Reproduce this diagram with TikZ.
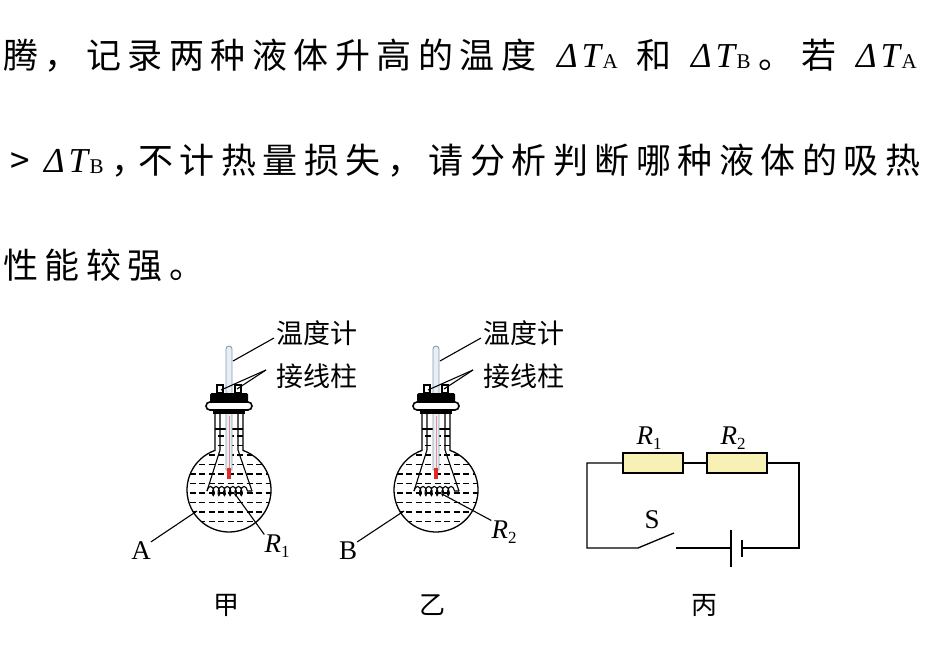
\RequirePackage{fix-cm}
\documentclass[tikz,border=0pt]{standalone}
\usepackage{amsmath}
\usepackage{fontspec}
\newfontfamily\cjk{Noto Sans CJK SC}
\newfontfamily\tms{Liberation Serif}
\usetikzlibrary{decorations.pathmorphing}
\definecolor{resfill}{HTML}{F8F1B6}
\definecolor{tubefill}{HTML}{E8EFF7}
\definecolor{tubeline}{HTML}{8C9AAC}
\definecolor{mercury}{HTML}{E02A2A}
\newcommand{\dT}[1]{{\itshape Δ\hspace{4pt}T}\hspace{1.5pt}\raisebox{-1pt}{\fontsize{21}{21}\selectfont #1}}
\newcommand{\Rsub}[1]{{\itshape R}\raisebox{-5pt}{\fontsize{17}{17}\selectfont #1}}
\tikzset{
  txt/.style={font=\cjk\fontsize{35}{35}\selectfont, inner sep=0pt, anchor=base west},
  mth/.style={font=\tms\fontsize{35}{35}\selectfont, inner sep=0pt, anchor=base west},
  lbl/.style={font=\cjk\fontsize{27}{27}\selectfont, inner sep=0pt, anchor=west},
  capt/.style={font=\cjk\fontsize{26}{26}\selectfont, inner sep=0pt},
  letter/.style={font=\tms\fontsize{27}{27}\selectfont, inner sep=0pt},
  wire/.style={line width=1.3pt},
  lead/.style={line width=1.1pt},
  liquid/.style={line width=1.1pt, dash pattern=on 6pt off 3.5pt},
  post/.style={draw, fill=white, line width=1.1pt, minimum width=6pt, minimum height=8pt, inner sep=0pt},
  res/.style={draw, line width=1.3pt, fill=resfill, minimum width=60pt, minimum height=20pt, inner sep=0pt}
}

\begin{document}
\begin{tikzpicture}[x=1pt,y=-1pt]
  \useasboundingbox (0,0) rectangle (928,660);
  % text above the figure
  \foreach \ch [count=\i from 0] in {腾,，,记,录,两,种,液,体,升,高,的,温,度}
    \node[txt] (la\i) at ({3+41.5*\i},69) {\ch};
  \node[mth] (dta1) at (557,68) {\dT{A}};
  \node[txt] (he) at (636,69) {和};
  \node[mth] (dtb1) at (691,68) {\dT{B}};
  \node[txt] (dot1) at (758,69) {。};
  \node[txt] (ruo) at (801,69) {若};
  \node[mth] (dta2) at (856,68) {\dT{A}};
  \node[txt] (gt) at (10,173.5) {>};
  \node[mth] (dtb2) at (44,172.5) {\dT{B}};
  \node[txt] (cm2) at (111,173.5) {，};
  \foreach \ch [count=\i from 0] in {不,计,热,量,损,失,，,请,分,析,判,断,哪,种,液,体,的,吸,热}
    \node[txt] (lb\i) at ({138+41.5*\i},173.5) {\ch};
  \foreach \ch [count=\i from 0] in {性,能,较,强,。}
    \node[txt] (lc\i) at ({3+41.5*\i},278) {\ch};

  % the two flasks
  \foreach \dx/\n/\s/\rx/\ry in {0/A/1/277/546, 207/B/2/297/532} {
  \begin{scope}[xshift=\dx pt]
    \begin{scope}
      \clip (215,429) -- (215,450.4) arc[start angle=250.5, end angle=-70.5, radius=42] -- (243,429) -- cycle;
      \foreach \yy in {436,445.5,...,530}
        \draw[liquid] (180,\yy) -- (280,\yy);
    \end{scope}
    \draw[wire] (215,429) -- (243,429);
    \coordinate (coilL\n) at (207,491);
    \coordinate (coilR\n) at (252,491);
    \coordinate (coilM\n) at (235,494);
    \draw[lead] (220,393) -- (220,450) -- (coilL\n);
    \draw[lead] (238,393) -- (238,450) -- (coilR\n);
    \draw[lead, decorate, decoration={coil, aspect=0.45, segment length=5.6pt, amplitude=4.6pt}] (coilL\n) -- (coilR\n);
    % thermometer
    \draw[tubeline, fill=tubefill, line width=0.9pt] (226,470) -- (226,349) arc[start angle=180, end angle=360, radius=3] -- (232,470) -- cycle;
    \draw[mercury!55, line width=0.6pt] (229,416) -- (229,470);
    \fill[mercury] (227,468) rectangle (231,479);
    % glass
    \draw[wire] (215,414) -- (215,450.4) arc[start angle=250.5, end angle=-70.5, radius=42] -- (243,414);
    % stopper
    \node[post] (pl\n) at (220,389) {};
    \node[post] (pr\n) at (238,389) {};
    \fill[rounded corners=1.5pt] (210,393) rectangle (248,402);
    \draw[line width=1.6pt, fill=white, rounded corners=4pt] (206,402) rectangle (252,410);
    \fill (213,410) rectangle (245,414);
    % labels
    \node[lbl] (thl\n) at (276,333) {温度计};
    \node[lbl] (jxl\n) at (276,376) {接线柱};
    \coordinate (thp\n) at (233,361);
    \draw[lead] (thp\n) -- ([shift={(-2,5)}]thl\n.west);
    \draw[lead] ([shift={(1,1)}]pl\n.center) -- ([shift={(-10,-6)}]jxl\n.west);
    \draw[lead] ([shift={(-1,0)}]pr\n.center) -- ([shift={(-10,-6)}]jxl\n.west);
    \node[letter] (lq\n) at (141,551) {\n};
    \coordinate (liq\n) at (197,511);
    \draw[lead] (lq\n.north east) -- (liq\n);
    \node[letter] (rl\n) at (\rx,\ry) {\Rsub{\s}};
    \draw[lead] (rl\n.north west) -- (coilM\n);
  \end{scope}
  }
  \node[capt] (capA) at (226,605) {甲};
  \node[capt] (capB) at (432,605) {乙};
  \node[capt] (capC) at (704,605) {丙};

  % circuit
  \node[res] (r1) at (653,463) {};
  \node[res] (r2) at (737,463) {};
  \node[letter] (r1l) at (649,438) {\Rsub{1}};
  \node[letter] (r2l) at (733,438) {\Rsub{2}};
  \node[letter] (sl) at (652,520) {S};
  \coordinate (tl) at (587,463);
  \coordinate (tr) at (799,463);
  \coordinate (bl) at (587,548);
  \coordinate (br) at (799,548);
  \coordinate (swa) at (638,548);
  \coordinate (swb) at (674,533);
  \coordinate (swc) at (676,548);
  \coordinate (batL) at (731,548);
  \coordinate (batS) at (742,548);
  \draw[wire] (r1.west) -- (tl) -- (bl) -- (swa) -- (swb);
  \draw[wire] (swc) -- (batL);
  \draw[wire] ([yshift=18pt]batL) -- ([yshift=-19pt]batL);
  \draw[line width=2.6pt] ([yshift=8pt]batS) -- ([yshift=-9pt]batS);
  \draw[wire] (batS) -- (br) -- (tr) -- (r2.east);
  \draw[wire] (r1.east) -- (r2.west);
\end{tikzpicture}
\end{document}
